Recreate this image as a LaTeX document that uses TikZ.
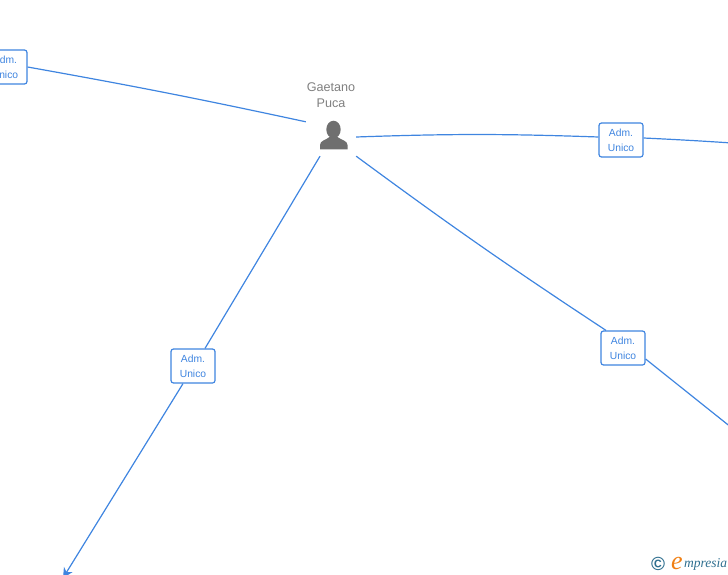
\documentclass[tikz,border=0pt]{standalone}
\usepackage{fontspec}
\setmainfont{Liberation Sans}
\newfontfamily\logofont{Liberation Serif}
\usetikzlibrary{positioning, calc, arrows.meta}
\definecolor{linkblue}{HTML}{3F85E0}
\definecolor{namegray}{HTML}{808080}
\definecolor{icongray}{HTML}{6F6F6F}
\definecolor{logoteal}{HTML}{2F6F8F}
\definecolor{logoorange}{HTML}{F07F13}
\newcommand{\NameF}{\fontsize{12.6}{16}\selectfont}
\newcommand{\RoleF}{\fontsize{10.3}{15}\selectfont}
\tikzset{
  link/.style={draw=linkblue, line width=1.2pt},
  rolebox/.style={draw=linkblue, fill=white, rounded corners=2.5pt, line width=1.2pt,
        minimum width=44pt, minimum height=34pt, inner sep=0pt, align=center,
        text=linkblue, font=\RoleF}
}

\begin{document}
\begin{tikzpicture}[x=1pt, y=-1pt]
  \useasboundingbox (0,0) rectangle (728,575);
  \clip (0,0) rectangle (728,575);

  \node[inner sep=0pt, minimum width=50pt, minimum height=34pt] (person) at (331,139) {};
  \node[align=center, text=namegray, font=\NameF, inner sep=0pt] (name) at (331,95) {Gaetano\\Puca};
  % icon
  \fill[icongray] (333.5,129.5) ellipse (7.2 and 8.8);
  \fill[icongray] (320,149.5) -- (320,145) .. controls (320,140.5) and (326,140) .. (329.5,137)
    -- (337.5,137) .. controls (341,140) and (347.5,140.5) .. (347.5,145) -- (347.5,149.5) -- cycle;

  \node[rolebox] (boxwest) at (5,67) {Adm.\\Unico};
  \node[rolebox] (boxeast) at (621,140) {Adm.\\Unico};
  \node[rolebox] (boxse) at (623,348) {Adm.\\Unico};
  \node[rolebox] (boxsw) at (193,366) {Adm.\\Unico};

  \coordinate (eastend) at (732,143);
  \coordinate (seend) at (732,428);
  \coordinate (swend) at (63,578);

  \draw[link] (boxwest.east) to[bend left=1] (person.north west);
  \draw[link] ([yshift=2pt]person.east) to[bend left=2] ([yshift=3pt]boxeast.west);
  \draw[link] ([yshift=2pt]boxeast.east) to[bend left=0.5] (eastend);
  \draw[link] (person.south east) to[bend right=1.5] ([xshift=-17pt]boxse.north);
  \draw[link] ([yshift=-11pt]boxse.east) -- (seend);
  \draw[link] ([xshift=-11pt]person.south) -- ([xshift=12pt]boxsw.north);
  \draw[link, -{Stealth[length=10pt, width=10pt]}] ([xshift=-10pt]boxsw.south) -- (swend);

  \node[inner sep=0pt, text=logoteal, font=\bfseries\fontsize{19}{19}\selectfont] (copyr) at (658,564) {©};
  \node[inner sep=0pt, text=logoorange, font=\logofont\itshape\fontsize{26}{26}\selectfont] (logoe) at (677,563) {e};
  \node[inner sep=0pt, text=logoteal, font=\logofont\itshape\fontsize{13.5}{14}\selectfont, anchor=west] (logotext) at (684,564) {mpresia};
\end{tikzpicture}
\end{document}
